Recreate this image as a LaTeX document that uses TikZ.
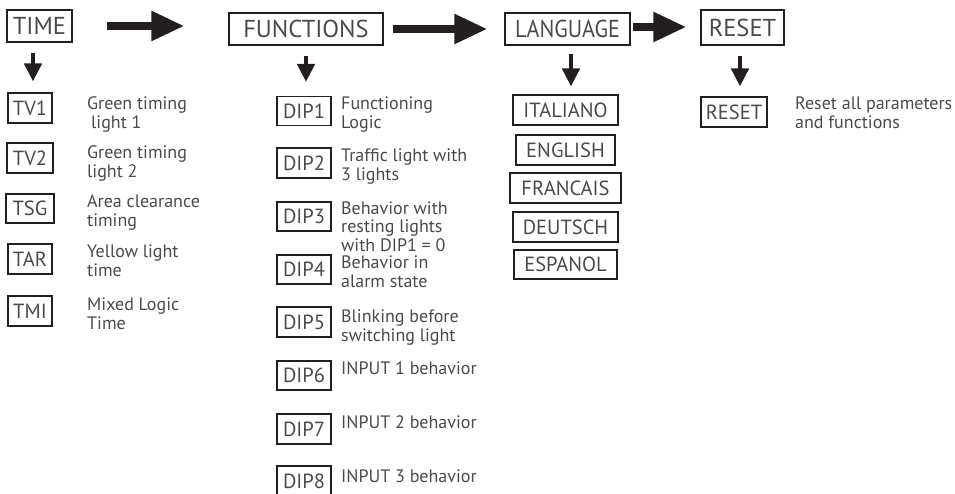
\documentclass[tikz,border=0pt]{standalone}
\usepackage{fontspec}
\setmainfont{PT Sans}
\usetikzlibrary{arrows.meta,calc}
\definecolor{txt}{HTML}{4A4A4A}
\definecolor{ink}{HTML}{231F20}
\newcommand{\desclines}[2][19pt]{\vtop{\baselineskip=#1\lineskiplimit=-20pt\halign{##\hfil\cr #2\crcr}}}
\begin{document}
\begin{tikzpicture}[x=1pt,y=-1pt,
  bx/.style={draw=ink, line width=1.1pt, text=txt, inner sep=0pt, font=\fontsize{20.5}{22}\selectfont},
  topbx/.style={bx, font=\fontsize{24.5}{26}\selectfont},
  desc/.style={anchor=base west, inner sep=0pt, text=txt, font=\fontsize{18}{19}\selectfont},
  fat/.style={draw=ink, line width=8pt, -{Triangle[length=33pt,width=28pt]}},
  dn/.style={draw=ink, line width=4.5pt, -{Triangle[length=18pt,width=17pt]}}]
\useasboundingbox (0,0) rectangle (955,494);
\clip (0,0) rectangle (955,494);
% top level
\node[topbx, minimum width=65pt, minimum height=32pt] (time) at (39.5,26) {TIME};
\node[topbx, minimum width=154pt, minimum height=32pt] (functions) at (306,29) {FUNCTIONS};
\node[topbx, minimum width=125pt, minimum height=32pt] (language) at (567.5,29) {\scalebox{0.9}[1]{LANGUAGE}};
\node[topbx, minimum width=83pt, minimum height=35pt] (reset) at (742.5,27.5) {RESET};
% horizontal arrows
\draw[fat] ([xshift=34pt]time.east |- 0,26) -- ([xshift=-44pt]functions.west |- 0,26);
\draw[fat] ([xshift=9pt]functions.east) -- ([xshift=-17pt]language.west);
\draw[fat] ([xshift=2pt]language.east |- 0,27) -- ([xshift=-14pt]reset.west |- 0,27);
% time column
\node[bx, minimum width=44pt, minimum height=30pt] (tv1) at (30,108) {TV1};
\node[bx, minimum width=46pt, minimum height=30pt] (tv2) at (30,158) {TV2};
\node[bx, minimum width=48pt, minimum height=29pt] (tsg) at (30,208.5) {TSG};
\node[bx, minimum width=44pt, minimum height=30pt] (tar) at (30,259) {TAR};
\node[bx, minimum width=44pt, minimum height=30pt] (tmi) at (30,311) {TMI};
\draw[dn] ([xshift=-6.5pt,yshift=-10pt]time.south) -- ([xshift=3pt,yshift=11pt]tv1.north);
\node[desc] (dtv1) at (87,110) {\desclines{Green timing\cr\hspace{4pt}light 1}};
\node[desc] (dtv2) at (87,159) {\desclines{Green timing\cr light 2}};
\node[desc] (dtsg) at (87,208) {\desclines{Area clearance\cr timing}};
\node[desc] (dtar) at (87,258) {\desclines{Yellow light\cr time}};
\node[desc] (dtmi) at (87,310) {\desclines{Mixed Logic\cr Time}};
% functions column
\node[bx, minimum width=54pt, minimum height=29pt] (dip1) at (304,111) {DIP1};
\node[bx, minimum width=54pt, minimum height=30pt] (dip2) at (304,163) {DIP2};
\node[bx, minimum width=54pt, minimum height=29pt] (dip3) at (304,216.5) {DIP3};
\node[bx, minimum width=54pt, minimum height=29pt] (dip4) at (304,269.5) {DIP4};
\node[bx, minimum width=54pt, minimum height=30pt] (dip5) at (304,322) {DIP5};
\node[bx, minimum width=54pt, minimum height=29pt] (dip6) at (304,375.5) {DIP6};
\node[bx, minimum width=54pt, minimum height=30pt] (dip7) at (304,429) {DIP7};
\node[bx, minimum width=54pt, minimum height=30pt] (dip8) at (304,481) {DIP8};
\draw[dn] ([yshift=-10pt]functions.south) -- ([xshift=2pt,yshift=14pt]dip1.north);
\node[desc] (ddip1) at (341,110) {\desclines{Functioning\cr Logic}};
\node[desc] (ddip2) at (341,162) {\desclines{Traffic light with\cr 3 lights}};
\node[desc] (ddip3) at (341,214.5) {\desclines[18.5pt]{Behavior with\cr resting lights\cr with DIP1 = 0}};
\node[desc] (ddip4) at (341,268.5) {\desclines{Behavior in\cr alarm state}};
\node[desc] (ddip5) at (341,322) {\desclines{Blinking before\cr switching light}};
\node[desc] (ddip6) at (341,374) {INPUT 1 behavior};
\node[desc] (ddip7) at (341,428) {INPUT 2 behavior};
\node[desc] (ddip8) at (341,482) {INPUT 3 behavior};
% language column
\node[bx, minimum width=105pt, minimum height=30pt] (italiano) at (565.5,110) {ITALIANO};
\node[bx, minimum width=99pt, minimum height=30pt] (english) at (565.5,150) {ENGLISH};
\node[bx, minimum width=111pt, minimum height=30pt] (francais) at (565.5,188) {FRANCAIS};
\node[bx, minimum width=105pt, minimum height=30pt] (deutsch) at (565.5,227) {DEUTSCH};
\node[bx, minimum width=103pt, minimum height=29pt] (espanol) at (565.5,264.5) {ESPANOL};
\draw[dn] ([xshift=3.5pt,yshift=-8pt]language.south) -- ([xshift=5.5pt,yshift=8pt]italiano.north);
% reset column
\node[bx, minimum width=66pt, minimum height=30pt] (reset2) at (734,112) {RESET};
\draw[dn] ([xshift=-2.5pt,yshift=-10pt]reset.south) -- ([xshift=6pt,yshift=10pt]reset2.north);
\node[desc] (dreset) at (795,110) {\desclines{Reset all parameters\cr and functions}};
\end{tikzpicture}
\end{document}
